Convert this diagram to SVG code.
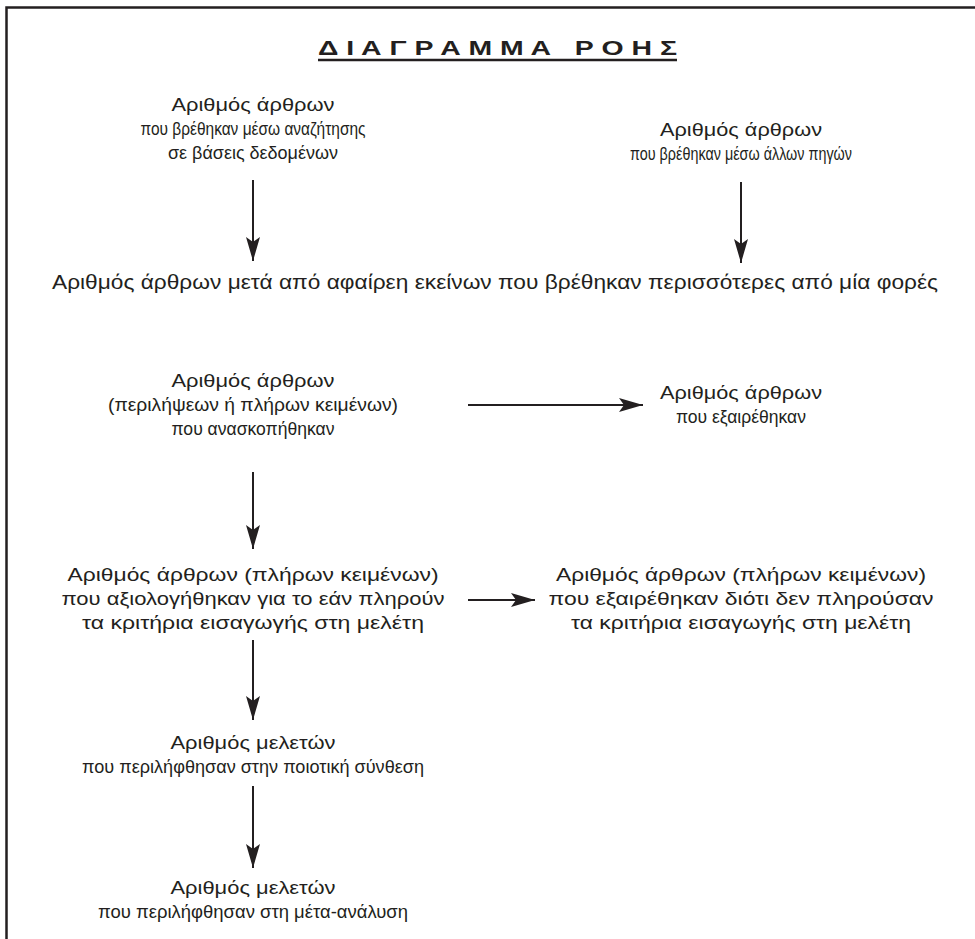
<svg xmlns="http://www.w3.org/2000/svg" width="975" height="939" viewBox="0 0 975 939">
<style>
.t{font-family:"Liberation Sans",Arial,sans-serif;font-size:19px;fill:#231f20;text-anchor:middle}
.w{font-family:"Liberation Sans",Arial,sans-serif;font-size:20px;fill:#231f20;text-anchor:middle}
.h{font-family:"Liberation Sans",Arial,sans-serif;font-size:21px;font-weight:bold;fill:#231f20;text-anchor:middle;white-space:pre}
.c{stroke:#231f20;stroke-width:2;fill:none}
</style>
<defs>
<marker id="ah" markerUnits="userSpaceOnUse" viewBox="0 0 24 14" markerWidth="24" markerHeight="14" refX="24" refY="7" orient="auto">
<path d="M0,0 L24,7 L0,14 L5,7 Z" fill="#231f20"/>
</marker>
</defs>
<rect width="975" height="939" fill="#fff"/>
<path d="M6.5,939 V7.5 H975" fill="none" stroke="#231f20" stroke-width="2.5"/>
<g id="title">
<text class="h" x="497.5" y="55" textLength="359" lengthAdjust="spacingAndGlyphs" xml:space="preserve">Δ Ι Α Γ Ρ Α Μ Μ Α   Ρ Ο Η Σ</text>
<line x1="318" y1="60" x2="677" y2="60" stroke="#231f20" stroke-width="2.5"/>
</g>
<g id="n1"><text class="t" x="253" y="111" textLength="163" lengthAdjust="spacingAndGlyphs">Αριθμός άρθρων</text><text class="t" x="253" y="135" textLength="225" lengthAdjust="spacingAndGlyphs">που βρέθηκαν μέσω αναζήτησης</text><text class="t" x="253" y="159" textLength="170" lengthAdjust="spacingAndGlyphs">σε βάσεις δεδομένων</text></g>
<g id="n2"><text class="t" x="741" y="136" textLength="162" lengthAdjust="spacingAndGlyphs">Αριθμός άρθρων</text><text class="t" x="741" y="160" textLength="222" lengthAdjust="spacingAndGlyphs">που βρέθηκαν μέσω άλλων πηγών</text></g>
<g id="n3"><text class="w" x="495" y="289" textLength="886" lengthAdjust="spacingAndGlyphs">Αριθμός άρθρων μετά από αφαίρεη εκείνων που βρέθηκαν περισσότερες από μία φορές</text></g>
<g id="n4"><text class="t" x="253" y="387" textLength="163" lengthAdjust="spacingAndGlyphs">Αριθμός άρθρων</text><text class="t" x="253" y="411" textLength="290" lengthAdjust="spacingAndGlyphs">(περιλήψεων ή πλήρων κειμένων)</text><text class="t" x="253" y="435" textLength="163" lengthAdjust="spacingAndGlyphs">που ανασκοπήθηκαν</text></g>
<g id="n5"><text class="t" x="741" y="399" textLength="162" lengthAdjust="spacingAndGlyphs">Αριθμός άρθρων</text><text class="t" x="741" y="423" textLength="130" lengthAdjust="spacingAndGlyphs">που εξαιρέθηκαν</text></g>
<g id="n6"><text class="t" x="253" y="581" textLength="371" lengthAdjust="spacingAndGlyphs">Αριθμός άρθρων (πλήρων κειμένων)</text><text class="t" x="253" y="605" textLength="383" lengthAdjust="spacingAndGlyphs">που αξιολογήθηκαν για το εάν πληρούν</text><text class="t" x="253" y="629" textLength="342" lengthAdjust="spacingAndGlyphs">τα κριτήρια εισαγωγής στη μελέτη</text></g>
<g id="n7"><text class="t" x="741" y="581" textLength="370" lengthAdjust="spacingAndGlyphs">Αριθμός άρθρων (πλήρων κειμένων)</text><text class="t" x="741" y="605" textLength="385" lengthAdjust="spacingAndGlyphs">που εξαιρέθηκαν διότι δεν πληρούσαν</text><text class="t" x="741" y="629" textLength="340" lengthAdjust="spacingAndGlyphs">τα κριτήρια εισαγωγής στη μελέτη</text></g>
<g id="n8"><text class="t" x="253" y="749" textLength="165" lengthAdjust="spacingAndGlyphs">Αριθμός μελετών</text><text class="t" x="253" y="773" textLength="342" lengthAdjust="spacingAndGlyphs">που περιλήφθησαν στην ποιοτική σύνθεση</text></g>
<g id="n9"><text class="t" x="253" y="894" textLength="165" lengthAdjust="spacingAndGlyphs">Αριθμός μελετών</text><text class="t" x="253" y="918" textLength="310" lengthAdjust="spacingAndGlyphs">που περιλήφθησαν στη μέτα-ανάλυση</text></g>
<g id="connectors">
<line class="c" x1="253" y1="180" x2="253" y2="261" marker-end="url(#ah)"/>
<line class="c" x1="741" y1="182" x2="741" y2="263" marker-end="url(#ah)"/>
<line class="c" x1="468" y1="405" x2="643" y2="405" marker-end="url(#ah)"/>
<line class="c" x1="253" y1="472" x2="253" y2="549" marker-end="url(#ah)"/>
<line class="c" x1="468" y1="600" x2="535" y2="600" marker-end="url(#ah)"/>
<line class="c" x1="253" y1="640" x2="253" y2="720" marker-end="url(#ah)"/>
<line class="c" x1="253" y1="786" x2="253" y2="868" marker-end="url(#ah)"/>
</g>
</svg>
